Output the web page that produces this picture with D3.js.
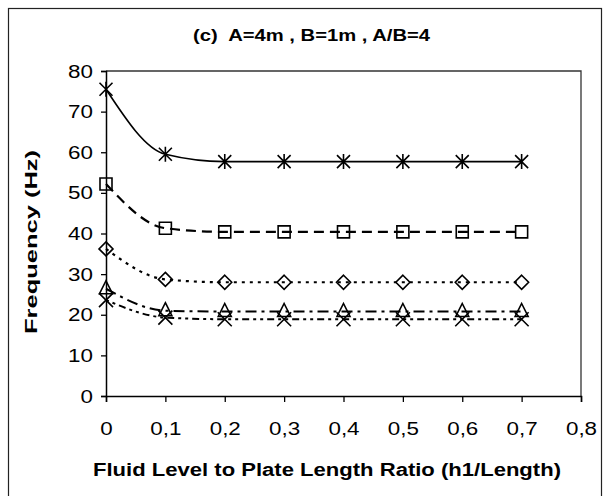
<!DOCTYPE html>
<html>
<head>
<meta charset="utf-8">
<script src="https://cdn.jsdelivr.net/npm/d3@7"></script>
<style>
  html, body { margin: 0; padding: 0; background: #fff; }
  svg { display: block; }
  text { font-family: "Liberation Sans", Arial, sans-serif; fill: #000; }
</style>
</head>
<body>
<svg id="chart" width="611" height="496"></svg>
<script>
// Fluid level ratio (h1/Length)
const ratios = [0, 0.1, 0.2, 0.3, 0.4, 0.5, 0.6, 0.7];

// Natural frequencies (Hz) for each mode
const mode5 = [75.5, 59.5, 57.7, 57.7, 57.7, 57.7, 57.7, 57.7];
const mode4 = [52.2, 41.3, 40.4, 40.4, 40.4, 40.4, 40.4, 40.4];
const mode3 = [36.2, 28.7, 28.0, 28.0, 28.0, 28.0, 28.0, 28.0];
const mode2 = [26.4, 21.0, 20.8, 20.8, 20.8, 20.8, 20.8, 20.8];
const mode1 = [23.6, 19.3, 18.9, 18.9, 18.9, 18.9, 18.9, 18.9];

const xTicks = [0, 0.1, 0.2, 0.3, 0.4, 0.5, 0.6, 0.7, 0.8];
const yTicks = [0, 10, 20, 30, 40, 50, 60, 70, 80];

const titleText = "(c)  A=4m , B=1m , A/B=4";
const xTitle = "Fluid Level to Plate Length Ratio (h1/Length)";
const yTitle = "Frequency (Hz)";

const series = [
  { values: mode5, marker: "asterisk", dash: null, width: 1.6 },
  { values: mode4, marker: "square", dash: "10,6", width: 2.2 },
  { values: mode3, marker: "diamond", dash: "3,5", width: 2.2 },
  { values: mode2, marker: "triangle", dash: "11,5,3,5", width: 2 },
  { values: mode1, marker: "cross", dash: "3,4,3,4,7,4", width: 2 }
];

const svg = d3.select("#chart");
const plot = { left: 106, right: 581, top: 71, bottom: 396 };
const stretch = 1.28; // wide lettering of the labels

// Outer chart frame (runs off the bottom edge)
svg.append("rect")
  .attr("x", 8.5).attr("y", 8.5)
  .attr("width", 593).attr("height", 500)
  .attr("fill", "none").attr("stroke", "#222").attr("stroke-width", 1.2);

const x = d3.scaleLinear().domain([0, 0.8]).range([plot.left, plot.right]);
const y = d3.scaleLinear().domain([0, 80]).range([plot.bottom, plot.top]);

// Plot area border (top and right)
svg.append("path")
  .attr("d", `M${plot.left},${plot.top}H${plot.right}V${plot.bottom}`)
  .attr("fill", "none").attr("stroke", "#333").attr("stroke-width", 1.3);

const fmt = d => d === 0 ? "0" : d3.format(".1f")(d).replace(".", ",");

const xAxis = svg.append("g")
  .attr("transform", `translate(0,${plot.bottom})`)
  .call(d3.axisBottom(x).tickValues(xTicks).tickFormat(fmt).tickSize(6).tickPadding(0));
const yAxis = svg.append("g")
  .attr("transform", `translate(${plot.left},0)`)
  .call(d3.axisLeft(y).tickValues(yTicks).tickSize(5).tickPadding(0));

[xAxis, yAxis].forEach(g => {
  g.select(".domain").attr("stroke", "#000").attr("stroke-width", 1.5);
  g.selectAll(".tick line").attr("stroke", "#000").attr("stroke-width", 1.3);
  g.selectAll(".tick text")
    .style("font-family", "'Liberation Sans', Arial, sans-serif")
    .style("font-size", "17.5px").attr("fill", "#000");
});

// x tick labels: widened, baseline below the axis
xAxis.selectAll(".tick text")
  .attr("y", null).attr("dy", null)
  .attr("transform", `translate(0,39) scale(${stretch},1)`);

// y tick labels: widened, right edge left of the ticks
yAxis.selectAll(".tick text")
  .attr("x", null).attr("dy", null)
  .attr("transform", `translate(-13,6) scale(${stretch},1)`);

// Titles
svg.append("text")
  .attr("x", 311.5).attr("y", 41)
  .attr("text-anchor", "middle")
  .attr("textLength", 237).attr("lengthAdjust", "spacingAndGlyphs")
  .style("white-space", "pre")
  .style("font-size", "16px").style("font-weight", "bold")
  .text(titleText);

svg.append("text")
  .attr("x", 327).attr("y", 476)
  .attr("text-anchor", "middle")
  .attr("textLength", 468).attr("lengthAdjust", "spacingAndGlyphs")
  .style("font-size", "17.5px").style("font-weight", "bold")
  .text(xTitle);

svg.append("text")
  .attr("transform", `translate(37,242) rotate(-90)`)
  .attr("text-anchor", "middle")
  .attr("textLength", 184).attr("lengthAdjust", "spacingAndGlyphs")
  .style("font-size", "17px").style("font-weight", "bold")
  .text(yTitle);

// Smoothed lines
const line = d3.line()
  .x((d, i) => x(ratios[i]))
  .y(d => y(d))
  .curve(d3.curveMonotoneX);

series.forEach(s => {
  svg.append("path")
    .datum(s.values)
    .attr("d", line)
    .attr("fill", "none")
    .attr("stroke", "#000")
    .attr("stroke-width", s.width)
    .attr("stroke-dasharray", s.dash);
});

// Marker symbols
function markerPath(kind) {
  switch (kind) {
    case "asterisk": {
      const r = 6.5;
      return `M${-r},${-r}L${r},${r}M${-r},${r}L${r},${-r}M0,${-r - 1}V${r + 1}`;
    }
    case "square": return "M-6,-6H6V6H-6Z";
    case "diamond": return "M0,-7L7,0L0,7L-7,0Z";
    case "triangle": return "M0,-8L6.5,5H-6.5Z";
    case "cross": {
      const r = 7;
      return `M${-r},${-r}L${r},${r}M${-r},${r}L${r},${-r}`;
    }
  }
}

series.forEach(s => {
  svg.append("g").selectAll("path")
    .data(s.values)
    .join("path")
    .attr("transform", (d, i) => `translate(${x(ratios[i])},${y(d)})`)
    .attr("d", markerPath(s.marker))
    .attr("fill", "none")
    .attr("stroke", "#000")
    .attr("stroke-width", 1.6);
});
</script>
</body>
</html>
